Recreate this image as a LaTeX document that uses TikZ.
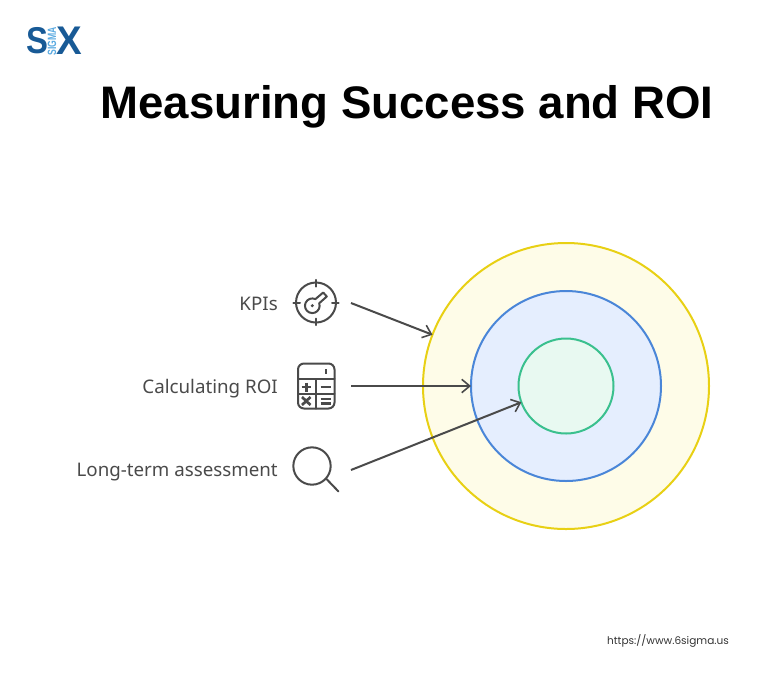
\documentclass[tikz,border=0pt]{standalone}
\usepackage{fontspec}
\usepackage{xcolor}
\usetikzlibrary{arrows.meta,positioning}
\setmainfont{Noto Sans}
\newfontfamily\linkfont{Poppins}
\newfontfamily\logofont{Liberation Sans}
\definecolor{ink}{RGB}{74, 74, 74}
\definecolor{ringyellow}{RGB}{232, 208, 20}
\definecolor{fillyellow}{RGB}{254, 252, 232}
\definecolor{ringblue}{RGB}{74, 134, 216}
\definecolor{fillblue}{RGB}{229, 238, 254}
\definecolor{ringgreen}{RGB}{58, 192, 142}
\definecolor{fillgreen}{RGB}{232, 249, 241}
\definecolor{logoblue}{RGB}{24, 90, 150}
\definecolor{logolight}{RGB}{90, 170, 225}
\tikzstyle{arrow} = [
    line width=1.5pt,
    draw=ink,
    -{Straight Barb[length=6pt,width=10pt,line width=1.2pt]}
]
\tikzstyle{ring} = [
    circle,
    line width=1.5pt,
    inner sep=0pt,
    outer sep=0pt
]
\tikzstyle{icon} = [
    draw=ink,
    line width=1.5pt,
    line cap=round,
    line join=round
]
\tikzstyle{thicksign} = [
    icon,
    line width=2pt,
    line cap=butt
]
\tikzstyle{tag} = [
    anchor=base east,
    inner sep=0pt,
    text=ink,
    font=\fontsize{14.05pt}{16pt}\selectfont
]
\begin{document}
\begin{tikzpicture}[x=0.75pt,y=-0.75pt]
    \useasboundingbox (0,0) rectangle (782,687);
    % logo and title
    \node[text=logoblue,inner sep=0pt,xscale=0.88,font=\logofont\bfseries\fontsize{28pt}{28pt}\selectfont] (logos) at (37.5,41) {S};
    \node[text=logoblue,inner sep=0pt,xscale=0.96,font=\logofont\bfseries\fontsize{30pt}{30pt}\selectfont] (logox) at (69.5,41) {X};
    \node[text=logolight,inner sep=0pt,rotate=90,xscale=0.72,font=\logofont\bfseries\fontsize{9pt}{9pt}\selectfont] (logosigma) at (52,41) {SIGMA};
    \node[anchor=base,inner sep=0pt,font=\logofont\bfseries\fontsize{34.2pt}{38pt}\selectfont] (title) at (407,118) {Measuring Success and ROI};
    % rings
    \node[ring,draw=ringyellow,fill=fillyellow,minimum size=214.5pt] (outer) at (566,386) {};
    \node[ring,draw=ringblue,fill=fillblue,minimum size=142.5pt] (middle) at (566,386) {};
    \node[ring,draw=ringgreen,fill=fillgreen,minimum size=71.25pt] (inner) at (566,386) {};
    % labels
    \node[tag] (kpis) at (278,310) {KPIs};
    \node[tag] (roi) at (278,393) {Calculating ROI};
    \node[tag] (longterm) at (278,476) {Long-term assessment};
    % key icon
    \coordinate (kpiicon) at (316,302.5);
    \draw[icon] (kpiicon) circle (15pt);
    \foreach \a in {0,90,180,270} {
        \draw[icon] ([shift={(\a:12pt)}]kpiicon) -- ([shift={(\a:17pt)}]kpiicon);
    }
    \draw[icon] (315.4,299.1) arc[start angle=65,end angle=380,radius=5.5pt] -- (326.8,296.5) -- (323.2,292.5) -- cycle;
    \fill[ink] (312.3,305.7) circle (1.3pt);
    % calculator icon
    \draw[icon,rounded corners=4.5pt] (298,363.5) rectangle (334.5,408.5);
    \draw[icon] (298,379) -- (334.5,379) (298,393.5) -- (334.5,393.5) (316,379) -- (316,408.5);
    \draw[thicksign] (326,369) -- (326,374);
    \draw[thicksign] (301.5,387) -- (311,387) (306.2,382.5) -- (306.2,391.5);
    \draw[thicksign] (320.5,387) -- (330.5,387);
    \draw[thicksign] (302,397) -- (310.5,405) (310.5,397) -- (302,405);
    \draw[thicksign] (320.5,399) -- (330.5,399) (320.5,403.5) -- (330.5,403.5);
    % magnifier icon
    \draw[icon] (312,466) circle (14pt);
    \draw[icon] (326.5,479) -- (338.5,491.5);
    % arrows
    \coordinate (kpistart) at (351,303);
    \coordinate (roistart) at (351,386);
    \coordinate (longstart) at (351,470);
    \draw[arrow] (kpistart) -- (outer.159.5);
    \draw[arrow] (roistart) -- (middle.west);
    \draw[arrow] (longstart) -- (inner.200);
    % link
    \node[inner sep=0pt,text=black!80,font=\linkfont\fontsize{7.9pt}{10pt}\selectfont] (link) at (668,641) {https://www.6sigma.us};
\end{tikzpicture}
\end{document}
